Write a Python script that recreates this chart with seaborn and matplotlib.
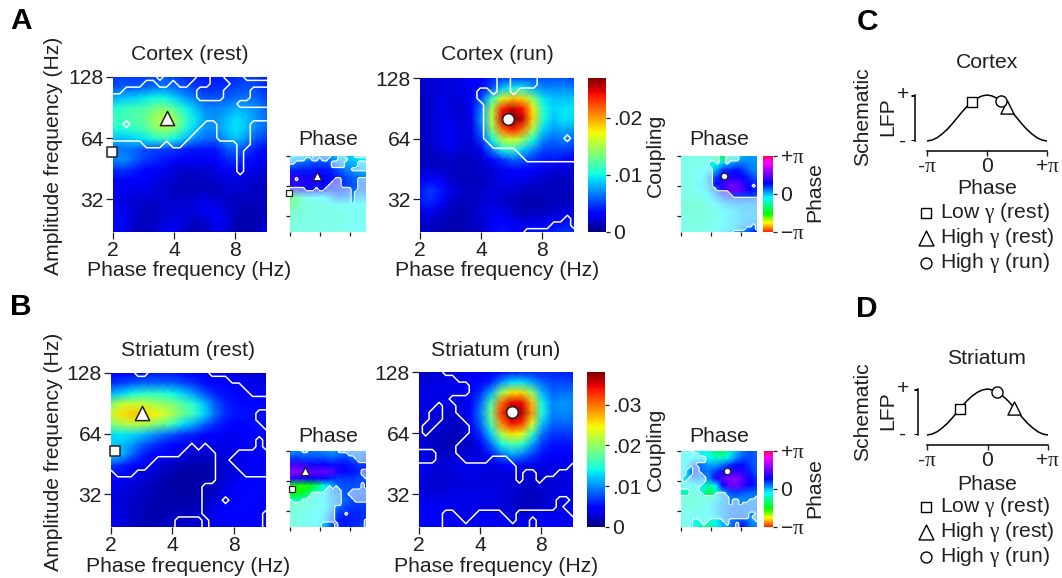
import numpy as np
import matplotlib
matplotlib.use("Agg")
import matplotlib.pyplot as plt
from matplotlib.colors import LinearSegmentedColormap
import seaborn as sns

# ---------- data: coupling (1e-4 units), top row first ----------
cortex_rest = [
 [45,50,48,50,52,55,50,45,42,38,40,42,45,50,48,40],
 [55,60,58,60,65,68,62,55,50,45,45,48,52,55,52,45],
 [80,85,88,95,100,100,90,75,65,55,55,58,62,65,60,50],
 [105,110,115,118,130,135,120,100,85,70,68,72,80,78,70,60],
 [115,115,122,125,145,155,145,115,95,75,72,82,92,85,72,65],
 [105,105,112,118,138,145,135,108,88,72,72,85,95,85,68,60],
 [85,85,90,95,105,110,100,85,70,62,62,75,85,72,55,48],
 [62,65,62,55,52,50,48,42,40,38,40,55,62,50,40,35],
 [68,72,62,50,45,40,35,30,28,28,30,42,48,40,32,28],
 [45,48,42,35,30,26,22,18,20,20,24,30,32,28,24,22],
 [32,32,28,30,24,22,18,15,15,15,18,22,24,20,18,18],
 [28,28,25,25,22,18,15,15,15,15,15,18,18,18,15,15],
 [25,22,22,18,18,20,18,18,22,25,20,18,15,15,15,15],
 [28,28,20,15,15,18,22,22,22,28,28,22,15,12,12,15],
 [35,30,18,15,15,22,25,22,15,18,28,25,12,12,12,20],
 [35,28,15,15,18,28,28,18,12,15,25,22,12,12,15,28]]
cortex_run = [
 [18,20,22,22,25,30,35,42,50,50,52,55,55,55,55,50],
 [18,20,22,22,25,30,35,55,85,100,100,80,70,70,72,68],
 [15,20,25,22,22,28,55,110,165,190,185,140,95,85,85,85],
 [15,18,25,22,20,28,70,150,235,255,240,180,105,90,95,95],
 [15,18,25,25,20,25,75,155,250,270,255,185,105,85,95,90],
 [15,18,25,28,22,25,65,140,215,240,215,150,90,75,80,75],
 [15,18,25,30,22,22,50,100,150,165,145,105,70,62,68,60],
 [15,15,22,25,18,18,28,65,100,110,90,70,52,50,52,45],
 [15,15,15,18,15,15,20,30,45,60,55,45,40,38,35,30],
 [20,22,18,15,15,15,18,20,28,32,32,30,25,22,22,20],
 [30,35,30,20,15,15,15,18,25,25,25,22,18,15,15,15],
 [40,50,40,25,18,15,18,22,22,20,15,15,15,15,15,15],
 [40,45,35,20,15,15,20,22,18,15,12,12,12,15,15,15],
 [25,28,20,15,12,15,22,25,25,18,12,15,15,18,22,25],
 [18,18,15,12,12,15,20,28,32,28,22,25,25,30,35,40],
 [15,15,12,12,12,15,18,28,38,35,30,38,40,42,48,45]]
striatum_rest = [
 [45,45,50,55,55,55,55,50,45,40,38,35,32,30,28,28],
 [65,70,78,85,85,85,82,75,65,52,45,42,40,38,36,35],
 [115,125,140,150,155,150,140,125,105,80,60,52,48,45,42,42],
 [190,220,225,225,210,200,190,170,150,120,85,62,52,50,50,48],
 [225,255,265,265,250,235,210,180,160,130,90,65,55,52,52,52],
 [190,210,220,215,200,180,160,130,110,85,65,52,48,50,52,52],
 [130,135,130,120,105,90,78,65,58,50,42,38,38,42,48,48],
 [125,120,105,82,68,55,48,42,38,35,35,35,38,42,42,42],
 [125,115,85,62,48,42,35,32,28,25,28,32,35,40,42,42],
 [70,62,50,40,35,28,22,18,15,15,20,28,32,38,42,40],
 [42,42,38,32,25,20,15,12,12,12,18,28,35,42,45,42],
 [38,35,30,25,20,15,12,12,12,15,22,32,40,45,50,48],
 [35,30,28,22,18,15,15,12,15,20,28,38,45,50,50,45],
 [35,30,25,20,15,15,15,15,18,25,35,42,50,50,48,42],
 [38,32,25,18,15,18,22,22,22,30,38,42,48,48,45,42],
 [40,32,25,20,20,25,28,28,28,32,38,40,42,42,40,38]]
striatum_run = [
 [22,25,28,28,32,38,40,45,50,55,58,60,60,60,58,55],
 [30,32,35,35,38,42,48,60,100,130,135,110,85,75,75,70],
 [32,35,35,35,38,42,65,110,200,255,260,200,115,85,90,90],
 [32,35,35,32,32,42,85,165,300,350,345,270,140,95,105,100],
 [30,30,32,28,28,50,95,185,325,375,365,285,145,95,100,95],
 [28,28,30,25,22,42,85,165,290,340,325,235,120,85,85,85],
 [28,25,25,22,20,32,65,125,210,255,240,160,90,68,68,70],
 [30,25,22,18,20,25,45,85,140,170,155,110,68,55,52,55],
 [35,30,25,25,28,30,32,55,85,110,95,70,52,42,42,45],
 [42,35,30,30,35,38,35,32,40,50,48,40,35,35,35,40],
 [35,30,28,28,32,35,32,30,30,30,30,30,30,30,32,35],
 [32,28,28,30,30,30,32,32,32,28,25,25,28,30,32,32],
 [35,32,32,35,35,35,35,35,32,28,25,22,25,30,35,35],
 [40,40,38,38,35,35,35,32,30,28,22,22,28,32,35,35],
 [42,42,40,38,35,35,38,38,35,32,32,35,40,40,38,38],
 [42,45,45,42,38,38,42,45,42,38,38,42,45,45,42,40]]

# ---------- data: phase (radians) ----------
phase_cortex_rest = [
 [-.3,-.2,-.1,0,0,.2,.1,-.1,-.1,-.1,-.3,-.4],
 [.2,.3,.4,.5,.5,.5,.4,.2,0,0,-.1,-.2],
 [.7,.7,.7,.7,.8,.8,.7,.5,.3,.2,.1,0],
 [1.1,1.1,1.0,1.0,1.0,.9,.8,.7,.5,.4,.3,.2],
 [1.2,1.2,1.1,1.0,1.0,.9,.8,.7,.6,.5,.4,.3],
 [.8,.8,.8,.8,.8,.7,.6,.6,.5,.4,.3,.3],
 [-1.5,-1.0,-.6,-.4,-.3,-.3,0,.3,.2,.1,0,0],
 [-1.4,-1.0,-.7,-.6,-.5,-.5,-.5,-.4,-.4,-.3,-.3,-.3],
 [-.8,-.7,-.6,-.6,-.5,-.6,-.5,-.5,-.4,-.4,-.4,-.4],
 [-.7,-.7,-.6,-.5,-.6,-.5,-.5,-.6,-.5,-.4,-.4,-.4],
 [-.6,-.6,-.5,-.6,-.5,-.5,-.5,-.5,-.4,-.4,-.3,-.4],
 [-.7,-.6,-.6,-.5,-.5,-.5,-.6,-.5,-.4,-.4,-.3,-.3]]
phase_cortex_run = [
 [-.5,-.5,-.5,-.5,-.4,-1.0,-1.3,-.9,-.3,0,.1,.1],
 [-.5,-.5,-.5,-.5,-.4,-.5,-.2,0,.2,.3,.2,.2],
 [-.5,-.5,-.4,-.4,-.3,0,.6,.7,.8,.6,.3,.2],
 [-.5,-.5,-.5,-.3,0,.5,.9,1.0,1.0,.9,.6,.4],
 [-.5,-.5,-.4,-.2,0,.9,1.2,1.5,1.5,1.2,.8,.6],
 [-.5,-.5,-.5,-.3,-.1,.3,1.1,1.5,1.6,1.3,.9,.7],
 [-.6,-.6,-.6,-.5,-.3,0,.3,.5,.5,.5,.5,.4],
 [-.6,-.7,-.7,-.6,-.5,-.3,-.1,0,.1,.1,.1,.1],
 [-.6,-.7,-.7,-.7,-.6,-.5,-.3,-.2,-.1,0,0,0],
 [-.5,-.6,-.7,-.6,-.6,-.5,-.3,-.2,-.1,0,0,0],
 [-.5,-.5,-.6,-.6,-.5,-.4,-.3,-.2,-.1,0,.1,.3],
 [-.5,-.5,-.5,-.5,-.4,-.3,-.2,-.1,0,.3,.6,.8]]
phase_striatum_rest = [
 [.1,.2,.2,.3,.3,.2,.1,.2,.2,.2,.2,.3],
 [.6,.6,.5,.5,.5,.5,.4,.5,.6,.4,.3,.5],
 [1.3,1.3,1.2,1.0,1.0,.9,.8,.8,.8,.7,.6,.6],
 [1.9,1.8,1.7,1.5,1.5,1.6,1.5,1.0,.9,.8,.7,.7],
 [1.2,1.1,1.0,.9,1.0,.9,.7,.6,.6,.6,.5,.5],
 [-1.5,-1.7,-1.7,-1.6,-1.2,-.4,0,.4,.5,.5,.5,.5],
 [-1.5,-1.6,-1.5,-1.0,-.5,-.3,.1,.3,.5,.4,.4,.4],
 [-.8,-.8,-.6,-.5,-.4,-.2,0,.2,.4,.5,.5,.5],
 [-.7,-.7,-.6,-.5,-.4,-.3,0,.3,.5,.6,.6,.6],
 [-.6,-.6,-.5,-.4,-.3,-.2,.2,.6,.7,.7,.7,.6],
 [-.6,-.6,-.5,-.4,-.3,-.1,.4,.7,.8,.7,.7,.6],
 [-.7,-.6,-.5,-.4,-.2,0,.5,.7,.7,.7,.6,.5]]
phase_striatum_run = [
 [-.5,-.4,-.4,-.3,-.5,-1.0,-1.3,-.7,0,.3,.5,.4],
 [-.4,-.3,-.3,-.2,-.3,-.6,-.6,-.2,.2,.5,.5,.4],
 [-.3,-.2,.4,.3,.1,.1,.3,.6,.8,.8,.6,.4],
 [-.3,0,.5,.4,.3,.6,1.0,1.1,1.2,1.1,.7,.4],
 [-.3,-.1,.3,.1,.3,1.0,1.4,1.7,1.8,1.4,.9,.6],
 [-.5,-.4,-.3,-.2,-.8,-.3,.9,1.5,1.7,1.2,.9,.7],
 [-.7,-.7,-.5,-.5,-1.3,-.8,0,.5,.6,.5,.4,.4],
 [-.7,-.7,-.6,-.6,-.6,-.2,0,.2,.2,.2,.2,.2],
 [-.6,-.6,-.6,-.5,-.3,-.1,.1,.2,.3,.3,.3,.3],
 [-.5,-.5,-.5,-.4,-.3,-.1,.1,.3,.3,.3,.2,.2],
 [-.5,-.4,-.3,-.4,-.4,-.3,0,.2,.4,.5,.2,.1],
 [-.6,-.5,-.3,-.8,-1.0,-.5,0,.2,.7,.9,.4,.2]]

# ---------- data: significance masks, 1 = significant ----------
sig_cortex_rest = [
 "000000010000011001110000","000001100100111000111111","001111111111100001111000",
 "111111111111100001111000","111111111111111111100000","111111111111111111111111",
 "111111111111111111111111","110111111111110011111000","111111111111100011111000",
 "111111111111000011111000","000001110110000000011000","000000000000000000010000",
 "000000000000000000010000","000000000000000000010000","000000000000000000010000",
 "000000000000000000000000","000000000000000000000000","000000000000000000000000",
 "000000000000000000000000","000000000000000000000000","000000000000000000000000",
 "000000000000000000000000","000000000000000000000000","000000000000000000000000"]
sig_cortex_run = [
 "000000000000110000111111","000000000000110000111111","000000000110110111111111",
 "000000000111111111111111","000000000011111111111111","000000000011111111111111",
 "000000000011111111111111","000000000011111111111111","000000000011111111111111",
 "000000000011111111111101","000000000001111111111111","000000000000000111111111",
 "000000000000000011111111","000000000000000000000000","000000000000000000000000",
 "000000000000000000000000","000000000000000000000000","000000000000000000000000",
 "000000000000000000000000","000000000000000000000000","000000000000000000000000",
 "000000000000000000000010","000000000000000000001110","000000000000000011111111"]
sig_striatum_rest = [
 "111100111111111000000000","111111111111111111000000","111111111111111111110000",
 "111111111111111111111000","111111111111111111111111","111111111111111111111111",
 "111111111111111111111100","111111111111111111111100","111111111111111111111110",
 "111111111111111111111111","111111111111111111111101","111111111111010111111101",
 "111111111110000011100000","111111100000000011000000","111111000000000011100000",
 "011100000000000011110000","000000000000000011111111","000000000000001111111111",
 "000000000000001111111111","000000000000001110111111","000000000000001111111111",
 "000000000000001111111110","000000000011110111111110","000000000011110111111110"]
sig_striatum_run = [
 "000011111111111111111111","000000111111111111111111","000000001111111111111111",
 "000000001111111111111111","000001111111111111111111","000100111111111111111111",
 "001100111111111111111111","001100011111111111111111","011000001111111111111111",
 "010000001111111111111111","000000011111111111111111","000000111111111111111111",
 "111000111111111111111111","111000011110001111111111","000000000000000111111110",
 "000000000000000100111000","000000000000000100100000","000000000000000000000000",
 "000000000000000000000000","000000000000000000000110","000000000000000000000100",
 "000011000111100111111110","000011101111110110111111","000011111111111110111111"]

# ---------- data: marker positions (Hz) ----------
marker_square_a = (1.97, 54.5); marker_tri_a = (3.69, 80); marker_circ_a = (5.44, 80)
marker_square_b = (2.09, 52.6); marker_tri_b = (2.84, 81); marker_circ_b = (5.77, 81)

# ---------- data: schematic LFP ----------
lfp_phase = [-3.14,-2.88,-2.62,-2.36,-2.09,-1.83,-1.57,-1.31,-1.05,-.79,-.52,-.26,0,
             .26,.52,.79,1.05,1.31,1.57,1.83,2.09,2.36,2.62,2.88,3.14]
lfp_value = [0,.02,.07,.15,.25,.37,.5,.63,.75,.85,.93,.98,1,
             .98,.93,.85,.75,.63,.5,.37,.25,.15,.07,.02,0]
scheme_c = {"square": -.79, "triangle": 1.05, "circle": .73}
scheme_d = {"square": -1.43, "triangle": 1.38, "circle": .5}
legend_labels = ["Low $\\gamma$ (rest)", "High $\\gamma$ (rest)", "High $\\gamma$ (run)"]

# ---------- styling ----------
sns.set_style("white")
plt.rcParams.update({
    "font.family": ["Liberation Sans", "DejaVu Sans"],
    "mathtext.fontset": "custom", "mathtext.rm": "Liberation Serif",
    "mathtext.it": "Liberation Serif", "mathtext.bf": "Liberation Serif",
    "text.color": "#231f20", "axes.labelcolor": "#231f20",
    "xtick.color": "#231f20", "ytick.color": "#231f20",
})
FS = 15.2
W, H = 1062, 578
fig = plt.figure(figsize=(W/100, H/100), dpi=100)

def axpx(x0, y0, x1, y1):
    return fig.add_axes([x0/W, 1-y1/H, (x1-x0)/W, (y1-y0)/H])

def tpx(x, y, s, **kw):
    kw.setdefault("ha", "center"); kw.setdefault("va", "center"); kw.setdefault("fontsize", FS)
    fig.text(x/W, 1-y/H, s, **kw)

jet = plt.get_cmap("jet")
phase_cmap = LinearSegmentedColormap.from_list("phase", [
    (0, "#ff2000"), (.12, "#ffff00"), (.24, "#00ff00"), (.45, "#00ffff"),
    (.637, "#0000ff"), (.81, "#a000ff"), (.92, "#ff00ff"), (1, "#ff0050")])
pale = LinearSegmentedColormap.from_list("pale", [(1, 1, 1, .5), (1, 1, 1, 0)])

FX_MAX, FY_MIN, FY_MAX = 11.5, 22.0, 128.0

def fx(f, n):
    return (n-1)*np.log2(f/2)/np.log2(FX_MAX/2)

def fy(f, n):
    return (n-1)*np.log2(FY_MAX/f)/np.log2(FY_MAX/FY_MIN)

def mask(rows):
    return np.array([[int(c) for c in r] for r in rows], float)

def finish(ax, n, labels, tl, off=0):
    ax.set_xlim(off, n-1+off); ax.set_ylim(n-1+off, off)
    ax.set_xticks([fx(f, n)+off for f in (2, 4, 8)])
    ax.set_yticks([fy(f, n)+off for f in (128, 64, 32)])
    ax.set_xticklabels(["2", "4", "8"] if labels else [])
    ax.set_yticklabels(["128", "64", "32"] if labels else [])
    ax.tick_params(axis="both", length=tl, width=.9, labelsize=FS, pad=1.5,
                   bottom=True, left=True, labelrotation=0)
    for s in ax.spines.values():
        s.set_visible(False)
    ax.set_xlabel(""); ax.set_ylabel("")

def marks(ax, n, items, lw, off=0):
    for (f, m, mk, size) in items:
        sns.scatterplot(x=[fx(f, n)+off], y=[fy(m, n)+off], marker=mk, s=size, color="white",
                        edgecolor="#231f20", linewidth=lw, ax=ax, clip_on=False,
                        zorder=5, legend=False)

def style_cbar(cax, ticks, labels):
    cax.set_yticks(ticks); cax.set_yticklabels(labels)
    cax.tick_params(length=3, width=.9, labelsize=FS, pad=2, right=True, labelright=True)
    for s in cax.spines.values():
        s.set_visible(False)

def main_panel(rect, data, sig, vmax, items, cax=None, ticks=None, ticklabels=None):
    ax = axpx(*rect)
    d = np.array(data)*1e-4
    sns.heatmap(d, ax=ax, cmap=jet, vmin=0, vmax=vmax, shading="gouraud",
                cbar=cax is not None, cbar_ax=cax, xticklabels=False, yticklabels=False)
    m = mask(sig); g = 23/15
    ax.contour(np.arange(24)/g, np.arange(24)/g, m, levels=[.5], colors="white", linewidths=1.1)
    marks(ax, 16, items, 1.1)
    finish(ax, 16, True, 5)
    if cax is not None:
        style_cbar(cax, ticks, ticklabels)
    return ax

def phase_panel(rect, data, sig, items, cax=None):
    base = axpx(*rect)
    sns.heatmap(np.array(data), ax=base, cmap=phase_cmap, vmin=-np.pi, vmax=np.pi, shading="gouraud",
                cbar=cax is not None, cbar_ax=cax, xticklabels=False, yticklabels=False)
    base.set_xlim(0, 11); base.set_ylim(11, 0); base.axis("off")
    ax = axpx(*rect)
    m = mask(sig)
    sns.heatmap(m, ax=ax, cmap=pale, vmin=0, vmax=1, cbar=False,
                xticklabels=False, yticklabels=False)
    ax.patch.set_alpha(0)
    ax.contour(np.arange(24)+.5, np.arange(24)+.5, m, levels=[.5], colors="white", linewidths=.8)
    marks(ax, 24, items, .9, off=.5)
    finish(ax, 24, False, 3, off=.5)
    if cax is not None:
        style_cbar(cax, [-np.pi, 0, np.pi], ["\u2212$\\pi$", "0", "+$\\pi$"])

def schematic(x0, x1, ybase, y0, y1, barx, pos):
    ax = axpx(x0, y0-12, x1, ybase+1)
    sns.lineplot(x=lfp_phase, y=lfp_value, color="black", lw=1.1, ax=ax, errorbar=None, legend=False)
    ax.set_xlim(-np.pi, np.pi)
    span = (y1-y0)
    ax.set_ylim(-(ybase+1-y1)/span, 1+12/span)
    ax.patch.set_alpha(0)
    for s in ("top", "left", "right"):
        ax.spines[s].set_visible(False)
    ax.spines["bottom"].set_linewidth(1.1)
    ax.spines["bottom"].set_color("black")
    ax.set_xticks([-np.pi, 0, np.pi]); ax.set_xticklabels([])
    ax.set_yticks([])
    ax.tick_params(axis="x", length=3.5, width=1, direction="out", bottom=True)
    for key, mk, sz in (("square", "s", 52), ("triangle", "^", 90), ("circle", "o", 64)):
        p = pos[key]
        v = np.interp(p, lfp_phase, lfp_value)
        sns.scatterplot(x=[p], y=[v], marker=mk, s=sz, color="white", edgecolor="black", linewidth=1,
                        ax=ax, clip_on=False, zorder=4, legend=False)
    bar = axpx(barx-4, y0, barx, y1)
    sns.despine(ax=bar, left=True, bottom=True, top=True, right=False)
    bar.spines["right"].set_linewidth(1.1); bar.spines["right"].set_color("black")
    bar.spines["right"].set_visible(True)
    bar.set_xticks([]); bar.set_ylim(0, 1)
    bar.set_yticks([])
    bar.patch.set_alpha(0)
    bar.hlines([0, 1], 0, 1, colors="black", lw=2.2, clip_on=True, transform=bar.transAxes)

# ---------- row A ----------
cb1 = axpx(588, 78, 606, 232)
main_panel((113, 77, 267, 232), cortex_rest, sig_cortex_rest, .027,
           [(*marker_square_a, "s", 55), (*marker_tri_a, "^", 105)])
main_panel((420, 78, 574, 232), cortex_run, sig_cortex_run, .027,
           [(*marker_circ_a, "o", 70)], cax=cb1, ticks=[0, .01, .02], ticklabels=["0", ".01", ".02"])
pc1 = axpx(763, 156, 773, 232)
phase_panel((290, 156, 366, 232), phase_cortex_rest, sig_cortex_rest,
            [(*marker_square_a, "s", 16), (*marker_tri_a, "^", 36)])
phase_panel((681, 156, 757, 232), phase_cortex_run, sig_cortex_run,
            [(*marker_circ_a, "o", 22)], cax=pc1)

# ---------- row B ----------
cb2 = axpx(587, 372, 605, 527)
main_panel((111, 373, 266, 527), striatum_rest, sig_striatum_rest, .038,
           [(*marker_square_b, "s", 55), (*marker_tri_b, "^", 105)])
main_panel((419, 372, 573, 527), striatum_run, sig_striatum_run, .038,
           [(*marker_circ_b, "o", 70)], cax=cb2, ticks=[0, .01, .02, .03],
           ticklabels=["0", ".01", ".02", ".03"])
pc2 = axpx(764, 451, 773, 527)
phase_panel((290, 451, 366, 527), phase_striatum_rest, sig_striatum_rest,
            [(*marker_square_b, "s", 16), (*marker_tri_b, "^", 36)])
phase_panel((681, 451, 757, 527), phase_striatum_run, sig_striatum_run,
            [(*marker_circ_b, "o", 22)], cax=pc2)

# ---------- schematics ----------
schematic(927, 1047, 150, 95, 141, 915, scheme_c)
schematic(927, 1048, 444, 389, 435, 918, scheme_d)

# ---------- text ----------
for x, y, s in ((21, 21, "A"), (21, 307, "B"), (867, 22, "C"), (867, 309, "D")):
    tpx(x, y, s, fontsize=21.5, fontweight="bold", color="black")
for x, y, s in ((190, 55, "Cortex (rest)"), (497, 55, "Cortex (run)"),
                (188, 351, "Striatum (rest)"), (496, 351, "Striatum (run)"),
                (328, 140, "Phase"), (719, 140, "Phase"), (328, 436, "Phase"), (719, 436, "Phase"),
                (189, 270, "Phase frequency (Hz)"), (497, 270, "Phase frequency (Hz)"),
                (188, 566, "Phase frequency (Hz)"), (496, 566, "Phase frequency (Hz)"),
                (987, 63, "Cortex"), (987, 358, "Striatum"), (987, 189, "Phase"), (987, 484, "Phase")):
    tpx(x, y, s)
for x, y, s in ((54, 156, "Amplitude frequency (Hz)"), (54, 452, "Amplitude frequency (Hz)"),
                (655, 155, "Coupling"), (655, 449, "Coupling"),
                (815, 192, "Phase"), (815, 488, "Phase"),
                (863, 117, "Schematic"), (863, 412, "Schematic"),
                (888, 117, "LFP"), (888, 411, "LFP")):
    tpx(x, y, s, rotation=90)
for yb, ybar0, ybar1 in ((166, 94, 141), (460, 389, 434)):
    tpx(927, yb, "-$\\pi$"); tpx(987, yb, "0"); tpx(1047, yb, "+$\\pi$")
    tpx(903, ybar0, "+"); tpx(903, ybar1, "-")
for y0 in (213, 507):
    for i, lab in enumerate(legend_labels):
        tpx(940, y0+i*25, lab, ha="left")
    lax = axpx(915, y0-12, 937, y0+62)
    for yy, mk, sz in ((0, "s", 45), (25, "^", 115), (50, "o", 62)):
        sns.scatterplot(x=[.5], y=[yy], marker=mk, s=sz, color="white", edgecolor="black",
                        linewidth=1, ax=lax, legend=False, clip_on=False)
    lax.set_xlim(0, 1); lax.set_ylim(62, -12); lax.axis("off")

fig.savefig("out.png", dpi=100)
